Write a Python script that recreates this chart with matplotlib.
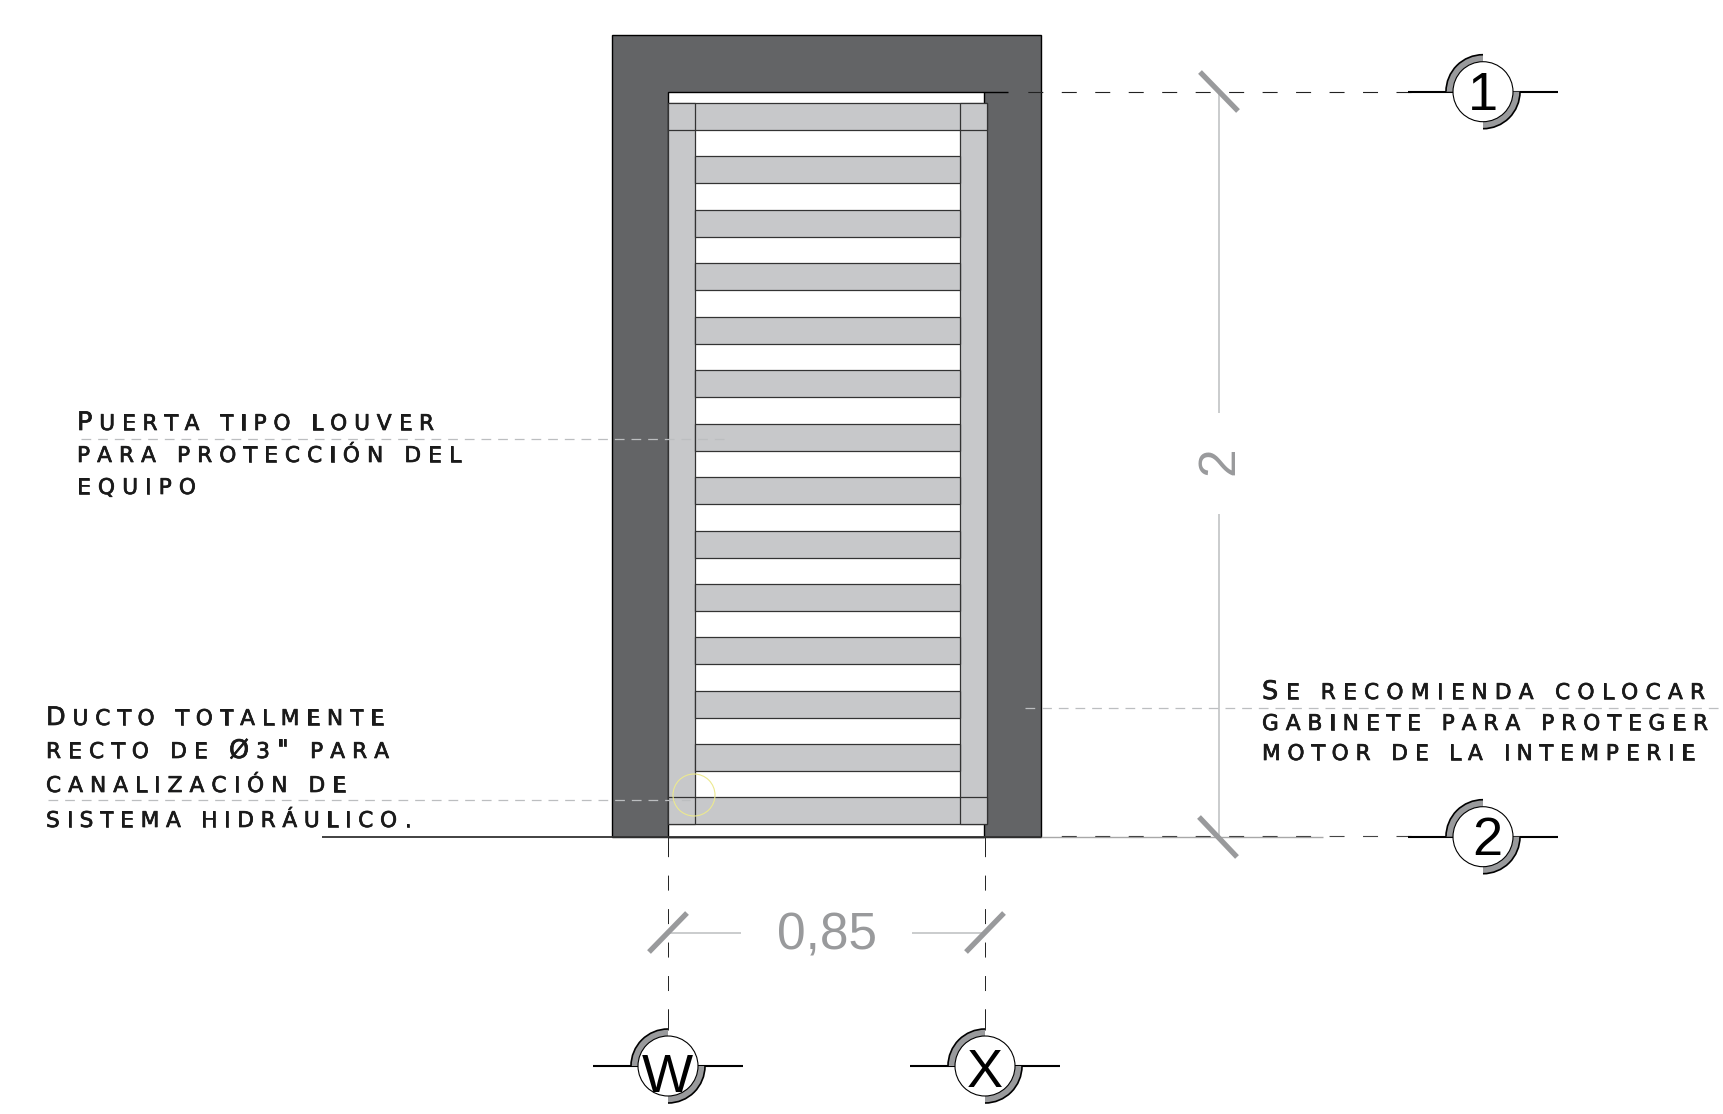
###############################################################
###   Detalle de puerta louver - elevacion con cotas y ejes
###############################################################
import matplotlib
matplotlib.use('Agg')
import matplotlib.pyplot as plt
import matplotlib.patheffects as pe
from matplotlib.patches import Rectangle, Circle, Wedge, Arc
from matplotlib.text import Text

plt.rcParams['lines.scale_dashes'] = False
plt.rcParams['lines.solid_capstyle'] = 'butt'

# top edge of every louver slat, in drawing pixels
slat_tops = [103, 156, 210, 263, 317, 370, 424, 477, 531, 584, 637, 691, 744, 797]
slat_height = 27

note_puerta = ['Puerta tipo louver', 'para protección del', 'equipo']
note_ducto = ['Ducto totalmente', 'recto de Ø3" para', 'canalización de', 'sistema hidráulico.']
note_motor = ['Se recomienda colocar', 'gabinete para proteger', 'motor de la intemperie']

cota_ancho = '0,85'
cota_alto = '2'
eje_labels = ['1', '2', 'W', 'X']

WALL = '#636466'
LOUVER = '#c7c8ca'
TICK = '#999a9c'
DIM = '#bcbec0'
TXT = '#1a1a1a'

Y_TOP = 91.7     # linea de eje 1
Y_BASE = 836.7   # nivel de piso / eje 2


###############################################################
#  small caps with wide tracking: the string stays whole, only
#  the drawing goes glyph by glyph up to the measured line width
###############################################################
class SmallCapsText(Text):
    def __init__(self, x, y, s, line_width, **kw):
        super().__init__(x, y, s, **kw)
        self.line_width = line_width

    def draw(self, renderer):
        s = self.get_text()
        x0, y0 = self.get_position()
        size0 = self.get_fontsize()
        glyphs = []
        for ch in s:
            size = 15.6 if (ch.islower() or ch.isdigit()) else 18.4
            self.set_fontsize(size)
            w = 7.0
            if ch != ' ':
                w = renderer.get_text_width_height_descent(ch.upper(), self.get_fontproperties(), False)[0]
            glyphs.append((ch.upper(), size, w))
        track = (self.line_width - sum(g[2] for g in glyphs)) / (len(glyphs) - 1)
        x = x0
        for ch, size, w in glyphs:
            if ch != ' ':
                self.set_text(ch)
                self.set_fontsize(size)
                self.set_position((x, y0))
                super().draw(renderer)
            x += w + track
        self.set_text(s)
        self.set_fontsize(size0)
        self.set_position((x0, y0))


def nota(lines, x, baselines, widths):
    for s, y, w in zip(lines, baselines, widths):
        t = SmallCapsText(x, y, s, w, color=TXT, fontsize=15.6, family='DejaVu Sans',
                          ha='left', va='baseline', zorder=6)
        t.set_path_effects([pe.withStroke(linewidth=0.5, foreground=TXT)])
        ax.add_artist(t)


def tick(x0, y0, x1, y1):
    ax.plot([x0, x1], [y0, y1], color=TICK, lw=3.8, zorder=5)


def eje(cx, cy, label, lx, ly):
    # eje: linea, cuartos de arco grises y circulo con la letra
    ax.plot([cx - 75, cx + 75], [cy, cy], color='k', lw=1.5, zorder=4)
    for a0, a1 in [(180, 270), (0, 90)]:
        ax.add_patch(Wedge((cx, cy), 37, a0, a1, width=8, fc=TICK, ec='none', zorder=5))
        ax.add_patch(Arc((cx, cy), 74, 74, theta1=a0, theta2=a1, ec='k', lw=1.2, zorder=5))
    ax.add_patch(Circle((cx, cy), 30, fc='white', ec='k', lw=0.8, zorder=6))
    ax.text(lx, ly, label, family='Liberation Sans', fontsize=39, color='k',
            ha='center', va='baseline', zorder=7)


fig = plt.figure(figsize=(17.23, 11.14), dpi=100)
ax = fig.add_axes([0, 0, 1, 1])
ax.set_xlim(0, 1723)
ax.set_ylim(1114, 0)
ax.axis('off')

# muro y vano
ax.add_patch(Rectangle((612, 35), 429, Y_BASE - 35, fc=WALL, ec='k', lw=1, zorder=1))
ax.add_patch(Rectangle((668, Y_TOP), 316, Y_BASE - Y_TOP, fc='white', ec='k', lw=1, zorder=1))

# parales y lamas
ax.add_patch(Rectangle((668, 103), 27, 721, fc=LOUVER, ec='#333333', lw=0.9, zorder=2))
ax.add_patch(Rectangle((960, 103), 27, 721, fc=LOUVER, ec='#333333', lw=0.9, zorder=2))
for i, top in enumerate(slat_tops):
    if i == 0 or i == len(slat_tops) - 1:
        ax.add_patch(Rectangle((668, top), 319, slat_height, fc=LOUVER, ec='#333333', lw=0.9, zorder=3))
        ax.plot([695, 695], [top, top + slat_height], color='#333333', lw=0.9, zorder=3)
        ax.plot([960, 960], [top, top + slat_height], color='#333333', lw=0.9, zorder=3)
    else:
        ax.add_patch(Rectangle((695, top), 265, slat_height, fc=LOUVER, ec='#333333', lw=0.9, zorder=3))

# nivel de piso
ax.plot([322, 1041], [Y_BASE, Y_BASE], color='#333333', lw=1.3, zorder=4)
ax.plot([1041, 1323], [Y_BASE + 0.5, Y_BASE + 0.5], color='#a8a8a8', lw=1, zorder=2)

# lineas de eje punteadas
rayas = (0, (10.8, 13.3))
ax.plot([984, 1008], [Y_TOP, Y_TOP], color='k', lw=1, zorder=2)
ax.plot([1411, 1022], [Y_TOP, Y_TOP], color='#222222', lw=0.8, ls=rayas, zorder=2)
ax.plot([1411, 1045], [Y_BASE - 0.5, Y_BASE - 0.5], color='#444444', lw=0.8, ls=rayas, zorder=3)
for x in [668, 985]:
    ax.plot([x, x], [1024, Y_BASE], color='#222222', lw=0.7, ls=rayas, zorder=3)
    ax.plot([x, x], [1009, 1030], color='#222222', lw=0.7, zorder=3)
    ax.plot([x, x], [Y_BASE, 855], color='#222222', lw=0.7, zorder=3)

# cotas
ax.plot([1219, 1219], [Y_TOP, 413], color=DIM, lw=1.1, zorder=2)
ax.plot([1219, 1219], [514, Y_BASE], color=DIM, lw=1.1, zorder=2)
ax.plot([668, 741], [933, 933], color=DIM, lw=1.1, zorder=2)
ax.plot([912, 985], [933, 933], color=DIM, lw=1.1, zorder=2)
tick(1200, 72, 1238, 111)
tick(1199, 817, 1237, 857)
tick(649, 952, 687, 913)
tick(966, 952, 1004, 913)
ax.text(827, 949, cota_ancho, family='Liberation Sans', fontsize=37, color=TICK, ha='center', va='baseline')
ax.text(1220, 461, cota_alto, family='Liberation Sans', fontsize=37, color=TICK, rotation=90,
        ha='center', va='center')

# ejes
eje(1483, Y_TOP, eje_labels[0], 1483, 110)
eje(1483, Y_BASE, eje_labels[1], 1487, 855)
eje(668, 1066, eje_labels[2], 667, 1092)
eje(985, 1066, eje_labels[3], 985, 1087)

# lineas guia de las notas
guia = (0, (7, 5))
ax.plot([81, 724], [438.5, 438.5], color=DIM, lw=0.9, ls=guia, zorder=5)
ax.plot([48, 690], [800, 800], color=DIM, lw=0.9, ls=guia, zorder=5)
ax.plot([1025, 1723], [708, 708], color=DIM, lw=0.9, ls=guia, zorder=5)

ax.add_patch(Circle((694, 795), 21, fc='none', ec='#ece98f', lw=0.8, zorder=6))

nota(note_puerta, 77, [430, 462, 494], [357, 384, 119])
nota(note_ducto, 46, [725, 758, 792, 827], [338, 343, 300, 366])
nota(note_motor, 1262, [699, 730, 760], [443, 446, 433])

fig.savefig('out.png', dpi=100)
